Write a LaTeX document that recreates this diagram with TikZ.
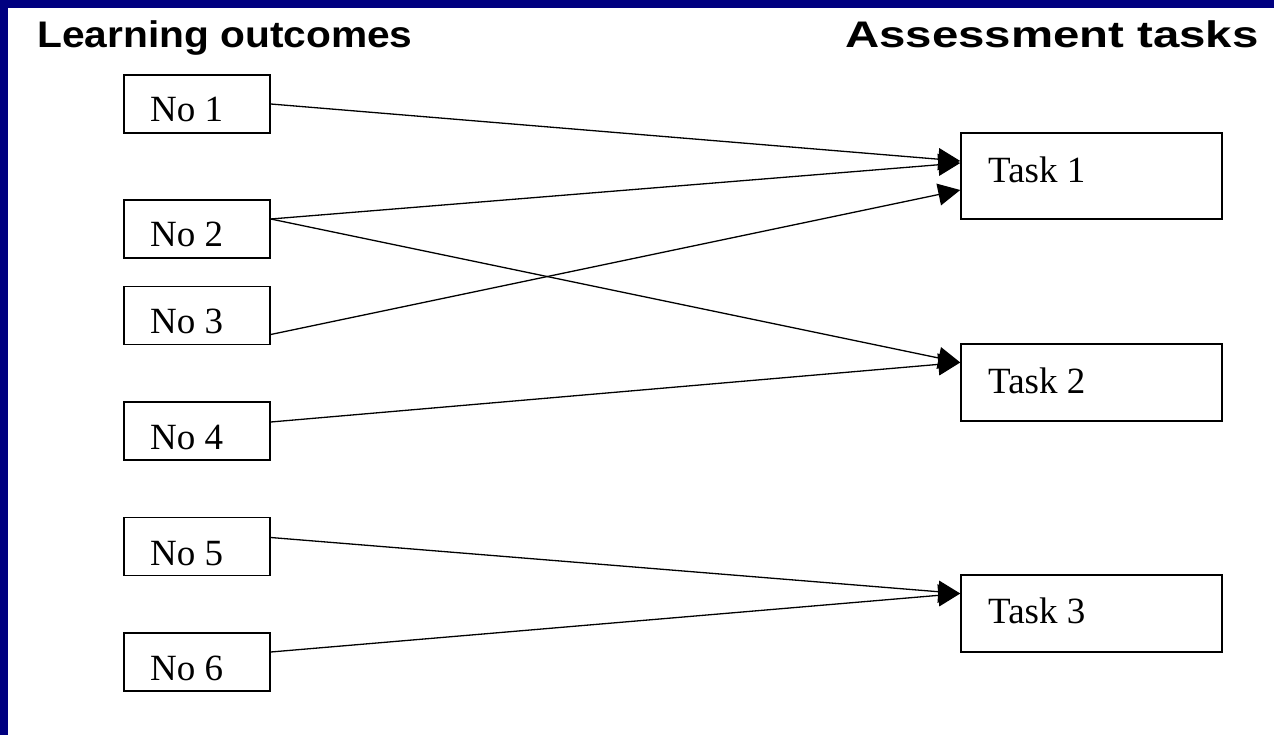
\documentclass[tikz,border=0pt]{standalone}
\usepackage{fontspec}
\setmainfont{Liberation Serif}
\newfontfamily\headfont{Liberation Sans}
\usetikzlibrary{arrows.meta}
\definecolor{navy}{RGB}{0,0,128}
\begin{document}
\begin{tikzpicture}[x=1pt,y=-1pt,
  obox/.style={draw=black,line width=1.5pt,minimum width=146pt,minimum height=58pt,inner sep=0pt,fill=white},
  tbox/.style={draw=black,line width=1.5pt,minimum width=261pt,minimum height=77pt,inner sep=0pt,fill=white},
  lbl/.style={anchor=base west,inner sep=0pt,font=\fontsize{37}{40}\selectfont},
  head/.style={anchor=base west,inner sep=0pt,font=\headfont\bfseries\fontsize{37}{40}\selectfont},
  conn/.style={draw=black,line width=1.3pt,-{Triangle[length=22pt,width=22pt]}}]
\useasboundingbox (0,0) rectangle (1274,735);
\fill[navy] (0,0) rectangle (1274,735);
\fill[white] (8,8) rectangle (1274,735);
\node[head] (h1) at (37,48) {\scalebox{1.10}[1]{Learning outcomes}};
\node[head] (h2) at (845,48) {\scalebox{1.28}[1]{Assessment tasks}};
\node[obox] (n1) at (197,104) {};
\node[obox] (n2) at (197,229) {};
\node[obox] (n3) at (197,315.5) {};
\node[obox] (n4) at (197,431) {};
\node[obox] (n5) at (197,546.5) {};
\node[obox] (n6) at (197,662) {};
\node[tbox,minimum height=86pt] (t1) at (1091.5,176) {};
\node[tbox] (t2) at (1091.5,382.5) {};
\node[tbox] (t3) at (1091.5,613.5) {};
\node[lbl] (l1) at (150,122) {No 1};
\node[lbl] (l2) at (150,247) {No 2};
\node[lbl] (l3) at (150,334) {No 3};
\node[lbl] (l4) at (150,449) {No 4};
\node[lbl] (l5) at (150,565) {No 5};
\node[lbl] (l6) at (150,680) {No 6};
\node[lbl] (m1) at (988,183) {Task 1};
\node[lbl] (m2) at (988,393) {Task 2};
\node[lbl] (m3) at (988,623) {Task 3};
\draw[conn] (n1.east) -- ([yshift=15pt]t1.west);
\draw[conn] ([yshift=10pt]n2.east) -- ([yshift=13pt]t1.west);
\draw[conn] ([yshift=-19pt]n3.east) -- ([yshift=-14pt]t1.west);
\draw[conn] ([yshift=10pt]n2.east) -- ([yshift=20pt]t2.west);
\draw[conn] ([yshift=9pt]n4.east) -- ([yshift=20pt]t2.west);
\draw[conn] ([yshift=9pt]n5.east) -- ([yshift=20pt]t3.west);
\draw[conn] ([yshift=10pt]n6.east) -- ([yshift=20pt]t3.west);
\end{tikzpicture}
\end{document}
